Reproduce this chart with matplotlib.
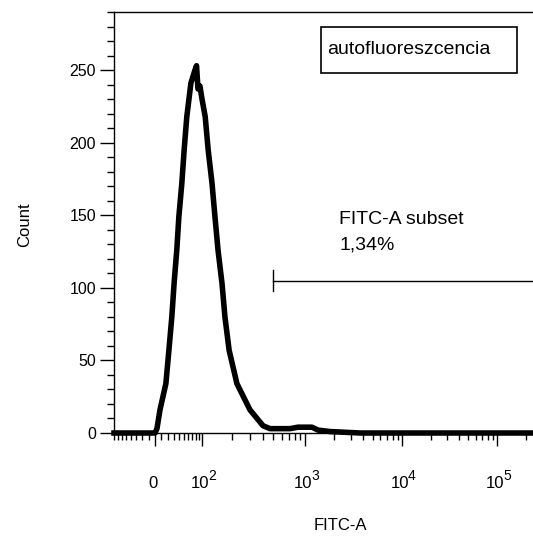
import numpy as np
import matplotlib
matplotlib.use("Agg")
import matplotlib.pyplot as plt
from matplotlib.patches import Rectangle
from matplotlib.transforms import offset_copy

plt.rcParams['font.family'] = ['Liberation Sans', 'DejaVu Sans']

# histogram (FITC-A intensity, count)
fitc = [-81, 0, 3, 7.7, 17, 22, 27, 31, 36, 40, 46, 51, 57, 67, 78, 82.5, 87, 93, 100,
        108, 116, 127, 136, 146, 160, 171, 188, 224, 299, 399, 465, 720, 857, 1181,
        1361, 1810, 3700, 2.39e5]
count = [0, 0, 3, 16, 34, 57, 80, 103, 126, 149, 172, 195, 218, 241, 250, 253, 237, 239, 230,
         218, 195, 172, 149, 126, 103, 80, 57, 34, 16, 5, 3, 3, 4, 4,
         2, 1, 0, 0]

gate_lo, gate_hi, gate_y = 497, 2.39e5, 105
gate_name = "FITC-A subset"
gate_pct = "1,34%"
sample_name = "autofluoreszcencia"

x_major = [0, 1e2, 1e3, 1e4, 1e5]
x_exponents = [None, "2", "3", "4", "5"]

# biexponential-like display scale (asinh, pieced between decades)
W = 50.0
anchor_x = np.array([0, 1e2, 1e3, 1e4, 1e5, 1e7])
anchor_p = np.array([0, 47, 150, 247, 342, 532.2])
anchor_u = np.arcsinh(anchor_x / W)


def fwd(x):
    x = np.asarray(x, dtype=float)
    return np.sign(x) * np.interp(np.arcsinh(np.abs(x) / W), anchor_u, anchor_p)


def inv(p):
    p = np.asarray(p, dtype=float)
    return np.sign(p) * W * np.sinh(np.interp(np.abs(p), anchor_p, anchor_u))


fig = plt.figure(figsize=(5.33, 5.36), dpi=100)
ax = fig.add_axes([114 / 533, (536 - 433) / 536, 419 / 533, 421 / 536])
ax.set_xscale('function', functions=(fwd, inv))

ax.plot(fitc, count, color='black', lw=4, solid_joinstyle='round', clip_on=False, zorder=3)

# gate
ax.plot([gate_lo, gate_hi], [gate_y, gate_y], color='black', lw=1, clip_on=False)
ax.plot([gate_lo, gate_lo], [gate_y - 7, gate_y + 7], color='black', lw=1)
ax.text(0.537, 0.506, gate_name, transform=ax.transAxes, fontsize=14, va='center', ha='left')
ax.text(0.537, 0.447, gate_pct, transform=ax.transAxes, fontsize=14, va='center', ha='left')

# sample name box
ax.add_patch(Rectangle((0.494, 0.855), 0.468, 0.109, transform=ax.transAxes,
                       fill=False, edgecolor='black', lw=1.2))
ax.text(0.508, 0.912, sample_name, transform=ax.transAxes, fontsize=14, va='center', ha='left')

minors = list(np.arange(-80, 0, 10)) + list(np.arange(10, 100, 10))
for d in [1e2, 1e3, 1e4, 1e5]:
    minors += [k * d for k in range(2, 10)]
ax.set_xticks(x_major, [""] * len(x_major))
ax.set_xticks(minors, minor=True)
ax.set_yticks(np.arange(0, 251, 50))
ax.set_yticks(np.arange(0, 291, 10), minor=True)

ax.set_xlim(-81, 2.39e5)
ax.set_ylim(0, 290)

ax.tick_params(axis='x', which='major', length=9, width=1)
ax.tick_params(axis='x', which='minor', length=5, width=1)
ax.tick_params(axis='y', which='major', length=10, width=1, labelsize=11.5, pad=3)
ax.tick_params(axis='y', which='minor', length=5, width=1)

# x tick labels: "10" with a raised exponent, like the cytometry software draws them
xtr = ax.get_xaxis_transform()
for xv, ex in zip(x_major, x_exponents):
    if ex is None:
        ax.text(xv, 0, "0", fontsize=12, ha='center', va='baseline',
                transform=offset_copy(xtr, fig=fig, x=-2, y=-55, units='dots'))
    else:
        ax.text(xv, 0, "10", fontsize=12, ha='center', va='baseline',
                transform=offset_copy(xtr, fig=fig, x=-2, y=-55, units='dots'))
        ax.text(xv, 0, ex, fontsize=10, ha='left', va='baseline',
                transform=offset_copy(xtr, fig=fig, x=6, y=-47, units='dots'))

ax.spines['right'].set_visible(False)
for s in ['left', 'top', 'bottom']:
    ax.spines[s].set_linewidth(1)

fig.text(25 / 533, 1 - 225 / 536, "Count", rotation=90, fontsize=12, ha='center', va='center')
fig.text(340 / 533, 1 - 525 / 536, "FITC-A", fontsize=12, ha='center', va='center')

fig.savefig("out.png", dpi=100)
